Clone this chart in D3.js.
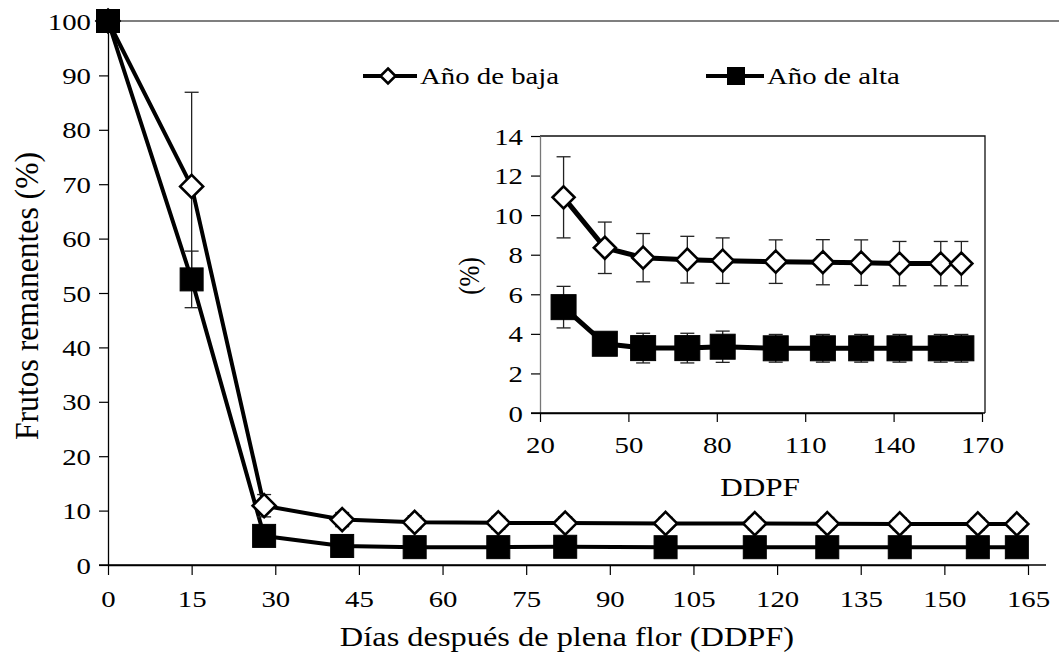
<!DOCTYPE html>
<html>
<head>
<meta charset="utf-8">
<script src="https://cdn.jsdelivr.net/npm/d3@7"></script>
<style>
  html, body { margin: 0; padding: 0; background: #fff; }
  svg { display: block; }
  text { font-family: "Liberation Serif", "Times New Roman", serif; fill: #000; }
</style>
</head>
<body>
<svg id="chart" width="1059" height="658"></svg>
<script>
// Days after full bloom at each sampling date
const days = [0, 15, 28, 42, 55, 70, 82, 100, 116, 129, 142, 156, 163];

// Remaining fruit (%) – low-crop year ("Año de baja")
const bajaValues = [100, 69.6, 10.9, 8.35, 7.85, 7.75, 7.7, 7.65, 7.62, 7.6, 7.55, 7.55, 7.55];
const bajaErrors = [0, 17.3, 2.05, 1.3, 1.22, 1.18, 1.15, 1.1, 1.14, 1.15, 1.12, 1.12, 1.12];

// Remaining fruit (%) – high-crop year ("Año de alta")
const altaValues = [100, 52.5, 5.35, 3.5, 3.28, 3.28, 3.35, 3.27, 3.27, 3.27, 3.27, 3.27, 3.27];
const altaErrors = [0, 5.2, 1.05, 0.5, 0.75, 0.75, 0.79, 0.7, 0.7, 0.7, 0.7, 0.7, 0.7];

// Axis ticks
const mainXTicks = [0, 15, 30, 45, 60, 75, 90, 105, 120, 135, 150, 165];
const mainYTicks = [0, 10, 20, 30, 40, 50, 60, 70, 80, 90, 100];
const insetXTicks = [20, 50, 80, 110, 140, 170];
const insetYTicks = [0, 2, 4, 6, 8, 10, 12, 14];

const seriesNames = ["Año de baja", "Año de alta"];

const svg = d3.select("#chart");
const STRETCH = 1.2;   // glyphs are drawn slightly wide
const FONT = 24;

const series = [
  { name: seriesNames[0], values: bajaValues, errors: bajaErrors, shape: "diamond" },
  { name: seriesNames[1], values: altaValues, errors: altaErrors, shape: "square" }
];

function label(g, x, y, txt, anchor, size) {
  return g.append("text")
    .attr("transform", `translate(${x},${y}) scale(${STRETCH},1)`)
    .attr("text-anchor", anchor || "middle")
    .attr("font-size", size || FONT)
    .text(txt);
}

function marker(g, shape, x, y, s) {
  if (shape === "square") {
    g.append("rect")
      .attr("x", x - s / 2).attr("y", y - s / 2)
      .attr("width", s).attr("height", s)
      .attr("fill", "#000").attr("stroke", "#000").attr("stroke-width", 1);
  } else {
    const h = s / 2;
    g.append("path")
      .attr("d", `M${x},${y - h}L${x + h},${y}L${x},${y + h}L${x - h},${y}Z`)
      .attr("fill", "#fff").attr("stroke", "#000").attr("stroke-width", 2.6)
      .attr("stroke-linejoin", "miter");
  }
}

function drawSeries(g, xs, ys, xData, sel, opt) {
  series.forEach(s => {
    const pts = xData.map((d, i) => ({ x: d, y: s.values[i], e: s.errors[i] }))
      .filter((d, i) => sel(i));
    g.append("path")
      .datum(pts)
      .attr("fill", "none")
      .attr("stroke", "#000")
      .attr("stroke-width", opt.lineWidth)
      .attr("stroke-linejoin", "round")
      .attr("d", d3.line().x(d => xs(d.x)).y(d => ys(d.y)));
    s.pts = pts;
  });
  // error bars sit under the markers
  series.forEach(s => {
    s.pts.forEach(d => {
      if (!d.e) return;
      const x = xs(d.x);
      const y1 = ys(d.y + d.e), y0 = ys(d.y - d.e);
      const eb = g.append("g").attr("stroke", "#222").attr("stroke-width", 1.3);
      eb.append("line").attr("x1", x).attr("x2", x).attr("y1", y1).attr("y2", y0);
      eb.append("line").attr("x1", x - opt.cap).attr("x2", x + opt.cap).attr("y1", y1).attr("y2", y1);
      eb.append("line").attr("x1", x - opt.cap).attr("x2", x + opt.cap).attr("y1", y0).attr("y2", y0);
    });
  });
  series.forEach(s => {
    s.pts.forEach(d => marker(g, s.shape, xs(d.x), ys(d.y), s.shape === "square" ? opt.sq : opt.dm));
  });
}

// ---------- main chart ----------
const x = d3.scaleLinear().domain([0, 165]).range([108, 1028]);
const y = d3.scaleLinear().domain([0, 100]).range([565, 21]);

const main = svg.append("g");

// top border
main.append("line").attr("x1", 108).attr("x2", 1059).attr("y1", y(100)).attr("y2", y(100))
  .attr("stroke", "#000").attr("stroke-width", 1.2);

const yAxis = main.append("g").attr("transform", `translate(${x(0)},0)`)
  .call(d3.axisLeft(y).tickValues(mainYTicks).tickSize(9).tickSizeOuter(0).tickFormat(d3.format("d")));
const xAxis = main.append("g").attr("transform", `translate(0,${y(0)})`)
  .call(d3.axisBottom(x).tickValues(mainXTicks).tickSize(10).tickSizeOuter(0).tickFormat(d3.format("d")));

[yAxis, xAxis].forEach(a => {
  a.select(".domain").attr("stroke", "#000").attr("stroke-width", 1.3);
  a.selectAll(".tick line").attr("stroke", "#000").attr("stroke-width", 1.2);
  a.selectAll("text").attr("font-size", FONT).attr("font-family", null);
});
// x axis line runs past both ends of the scale
xAxis.append("line").attr("x1", 99).attr("x2", 1046).attr("y1", 0).attr("y2", 0)
  .attr("stroke", "#000").attr("stroke-width", 1.3);
yAxis.selectAll(".tick text")
  .attr("x", null).attr("dy", null)
  .attr("transform", `translate(-17,8) scale(${STRETCH},1)`);
xAxis.selectAll(".tick text")
  .attr("y", null).attr("dy", null)
  .attr("transform", `translate(0,42) scale(${STRETCH},1)`);

// axis titles
label(main, 567, 646, "Días después de plena flor (DDPF)", "middle", 27);
main.append("text")
  .attr("transform", `translate(38,296) rotate(-90) scale(1,1.15)`)
  .attr("text-anchor", "middle")
  .attr("font-size", 29)
  .attr("textLength", 288).attr("lengthAdjust", "spacingAndGlyphs")
  .text("Frutos remanentes (%)");

drawSeries(main, x, y, days, () => true, { lineWidth: 4, cap: 7, sq: 23, dm: 23 });

// ---------- legend ----------
const legend = svg.append("g");
const legendItems = [
  { s: series[0], x0: 363, x1: 417, mx: 388, tx: 420 },
  { s: series[1], x0: 706, x1: 764, mx: 736, tx: 767 }
];
const ly = 76;
legendItems.forEach(it => {
  legend.append("line").attr("x1", it.x0).attr("x2", it.x1).attr("y1", ly).attr("y2", ly)
    .attr("stroke", "#000").attr("stroke-width", 4);
  marker(legend, it.s.shape, it.mx, ly, it.s.shape === "square" ? 17 : 15);
  label(legend, it.tx, ly + 8, it.s.name, "start");
});

// ---------- inset ----------
const ix = d3.scaleLinear().domain([20, 170]).range([540, 982]);
const iy = d3.scaleLinear().domain([0, 14]).range([413, 136]);
const inset = svg.append("g");

inset.append("rect").attr("x", 540).attr("y", iy(14)).attr("width", 985 - 540).attr("height", iy(0) - iy(14))
  .attr("fill", "#fff").attr("stroke", "none");
inset.append("path")
  .attr("d", `M540,${iy(14)}H985V${iy(0)}`)
  .attr("fill", "none").attr("stroke", "#111").attr("stroke-width", 1.3);

const iyAxis = inset.append("g").attr("transform", "translate(540,0)")
  .call(d3.axisLeft(iy).tickValues(insetYTicks).tickSize(9).tickSizeOuter(0).tickFormat(d3.format("d")));
const ixAxis = inset.append("g").attr("transform", `translate(0,${iy(0)})`)
  .call(d3.axisBottom(ix).tickValues(insetXTicks).tickSize(9).tickSizeOuter(0).tickFormat(d3.format("d")));
[iyAxis, ixAxis].forEach(a => {
  a.select(".domain").attr("stroke", "#777").attr("stroke-width", 1.3);
  a.selectAll(".tick line").attr("stroke", "#000").attr("stroke-width", 1.2);
  a.selectAll("text").attr("font-size", FONT).attr("font-family", null);
});
ixAxis.select(".domain").attr("stroke", "#000");
ixAxis.append("line").attr("x1", 531).attr("x2", 985).attr("y1", 0).attr("y2", 0)
  .attr("stroke", "#000").attr("stroke-width", 1.3);
iyAxis.selectAll(".tick text")
  .attr("x", null).attr("dy", null)
  .attr("transform", `translate(-17,8) scale(${STRETCH},1)`);
ixAxis.selectAll(".tick text")
  .attr("y", null).attr("dy", null)
  .attr("transform", `translate(0,40) scale(${STRETCH},1)`);

label(inset, 760, 496, "DDPF", "middle", 26);
inset.append("text")
  .attr("transform", `translate(479,276) rotate(-90) scale(1,1.15)`)
  .attr("text-anchor", "middle")
  .attr("font-size", 25)
  .text("(%)");

drawSeries(inset, ix, iy, days, i => i >= 2, { lineWidth: 5, cap: 7, sq: 25, dm: 22 });
</script>
</body>
</html>
